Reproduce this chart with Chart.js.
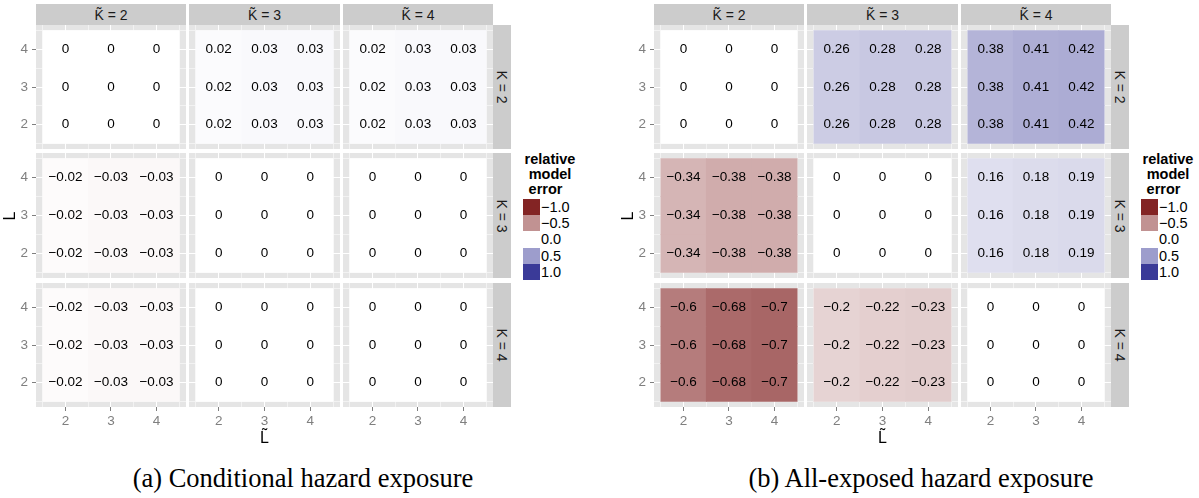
<!DOCTYPE html>
<html>
<head>
<meta charset="utf-8">
<script src="https://cdn.jsdelivr.net/npm/chart.js@4.4.1/dist/chart.umd.min.js"></script>
<style>
  html, body { margin: 0; padding: 0; background: #ffffff; }
  #page { position: relative; width: 1199px; height: 498px; overflow: hidden;
          font-family: "Liberation Sans", Arial, sans-serif; }
  #page canvas { position: absolute; }
  .strip { position: absolute; background: #CCCCCC; color: #1A1A1A; font-size: 14px;
           display: flex; align-items: center; justify-content: center; white-space: nowrap; }
  .strip .rot { display: inline-block; transform: rotate(90deg); }
  .txt { position: absolute; white-space: nowrap; color: #000; }
  .key { position: absolute; }
</style>
</head>
<body>
<div id="page"></div>
<script>
// grid coordinates shared by every facet
const lTildeValues = [2, 3, 4];
const lValues = [2, 3, 4];
const kTildeValues = [2, 3, 4];
const kValues = [2, 3, 4];
const axisTicks = [2, 3, 4];
const minorTicks = [1.5, 2.5, 3.5, 4.5];
const legendBreaks = [-1, -0.5, 0, 0.5, 1];
const legendLabels = ['\u22121.0', '\u22120.5', '0.0', '0.5', '1.0'];

// relative model error; one list per K row, one entry per K̃ facet,
// each giving the error for L̃ = 2, 3, 4 (the same for every L)
const conditionalK2 = [[0, 0, 0], [0.02, 0.03, 0.03], [0.02, 0.03, 0.03]];
const conditionalK3 = [[-0.02, -0.03, -0.03], [0, 0, 0], [0, 0, 0]];
const conditionalK4 = [[-0.02, -0.03, -0.03], [0, 0, 0], [0, 0, 0]];
const allExposedK2 = [[0, 0, 0], [0.26, 0.28, 0.28], [0.38, 0.41, 0.42]];
const allExposedK3 = [[-0.34, -0.38, -0.38], [0, 0, 0], [0.16, 0.18, 0.19]];
const allExposedK4 = [[-0.6, -0.68, -0.7], [-0.2, -0.22, -0.23], [0, 0, 0]];

// ---- diverging fill scale: white in the middle, muted red / muted blue at the ends ----
const LOW = [131, 36, 36], MID = [255, 255, 255], HIGH = [58, 58, 152];
function fillColor(v) {
  const t = Math.min(1, Math.abs(v));
  const end = v < 0 ? LOW : HIGH;
  const c = MID.map((m, i) => Math.round(m + (end[i] - m) * t));
  return 'rgb(' + c.join(',') + ')';
}
function formatValue(v) {
  if (v === 0) return '0';
  return (v < 0 ? '\u2212' : '') + String(Math.abs(v));
}

// ---- layout of the facet grid (relative to each figure's left edge) ----
const cols = [{ l: 36, r: 186 }, { l: 189, r: 340 }, { l: 343, r: 493 }];
const rows = [{ t: 25, b: 149 }, { t: 153, b: 278 }, { t: 283, b: 407 }];
const Y_AXIS_W = 36, X_AXIS_H = 32;
const RANGE_MIN = 1.35, RANGE_MAX = 4.65;
const TICK_GREY = '#7F7F7F';

Chart.defaults.font.family = '"Liberation Sans", Arial, sans-serif';
Chart.defaults.animation = false;

const page = document.getElementById('page');
function addEl(cls, style, html) {
  const d = document.createElement('div');
  d.className = cls;
  Object.assign(d.style, style);
  d.innerHTML = html;
  page.appendChild(d);
  return d;
}

const panelBackground = {
  id: 'panelBackground',
  beforeDraw(chart) {
    const a = chart.chartArea, ctx = chart.ctx;
    ctx.save();
    ctx.fillStyle = '#E5E5E5';
    ctx.fillRect(a.left, a.top, a.right - a.left, a.bottom - a.top);
    ctx.restore();
  }
};

const cellLabels = {
  id: 'cellLabels',
  afterDatasetsDraw(chart) {
    const ctx = chart.ctx;
    const ds = chart.data.datasets[0];
    const meta = chart.getDatasetMeta(0);
    ctx.save();
    ctx.fillStyle = '#000000';
    ctx.font = '13.5px "Liberation Sans", Arial, sans-serif';
    ctx.textAlign = 'center';
    ctx.textBaseline = 'middle';
    meta.data.forEach((el, i) => {
      const p = el.getCenterPoint();
      ctx.fillText(formatValue(ds.data[i].v), p.x, p.y);
    });
    ctx.restore();
  }
};

function majorScale(axis, position, show, size) {
  return {
    type: 'linear', axis: axis, position: position,
    min: RANGE_MIN, max: RANGE_MAX, offset: false,
    afterBuildTicks: s => { s.ticks = axisTicks.map(v => ({ value: v })); },
    afterFit: s => {
      if (axis === 'x') s.height = show ? size : 0; else s.width = show ? size : 0;
      s.paddingLeft = 0; s.paddingRight = 0; s.paddingTop = 0; s.paddingBottom = 0;
    },
    grid: { offset: false, color: '#FFFFFF', lineWidth: 1, drawTicks: show,
            tickLength: 4, tickColor: TICK_GREY, tickWidth: 1 },
    border: { display: false },
    ticks: { display: show, color: TICK_GREY, font: { size: 13.5 },
             padding: axis === 'x' ? 2 : 4, autoSkip: false, maxRotation: 0,
             callback: v => String(v) }
  };
}
function minorScale(axis, position) {
  return {
    type: 'linear', axis: axis, position: position,
    min: RANGE_MIN, max: RANGE_MAX, offset: false,
    afterBuildTicks: s => { s.ticks = minorTicks.map(v => ({ value: v })); },
    afterFit: s => {
      if (axis === 'x') s.height = 0; else s.width = 0;
      s.paddingLeft = 0; s.paddingRight = 0; s.paddingTop = 0; s.paddingBottom = 0;
    },
    grid: { offset: false, color: '#F2F2F2', lineWidth: 1, drawTicks: false },
    border: { display: false },
    ticks: { display: false }
  };
}

function facetChart(ox, ri, ci, values) {
  const showY = ci === 0, showX = ri === 2;
  const col = cols[ci], row = rows[ri];
  const left = ox + col.l - (showY ? Y_AXIS_W : 0);
  const width = col.r - col.l + (showY ? Y_AXIS_W : 0);
  const height = row.b - row.t + (showX ? X_AXIS_H : 0);
  const canvas = document.createElement('canvas');
  canvas.width = width; canvas.height = height;
  Object.assign(canvas.style, { left: left + 'px', top: row.t + 'px',
                                width: width + 'px', height: height + 'px' });
  page.appendChild(canvas);

  const points = [], colors = [];
  lValues.forEach(L => {
    lTildeValues.forEach((lt, j) => {
      points.push({ x: lt, y: [L - 0.5, L + 0.5], v: values[j] });
      colors.push(fillColor(values[j]));
    });
  });

  new Chart(canvas, {
    type: 'bar',
    data: { datasets: [{ data: points, backgroundColor: colors, borderWidth: 0,
                         barPercentage: 1, categoryPercentage: 1 }] },
    options: {
      responsive: false, animation: false, devicePixelRatio: 1,
      layout: { padding: 0 },
      plugins: { legend: { display: false }, tooltip: { enabled: false }, title: { display: false } },
      scales: {
        xMinor: minorScale('x', 'bottom'),
        yMinor: minorScale('y', 'left'),
        x: majorScale('x', 'bottom', showX, X_AXIS_H),
        y: majorScale('y', 'left', showY, Y_AXIS_W)
      }
    },
    plugins: [panelBackground, cellLabels]
  });
}

function buildFigure(ox, byK, caption) {
  byK.forEach((facets, ri) => facets.forEach((vals, ci) => facetChart(ox, ri, ci, vals)));

  // facet strips
  kTildeValues.forEach((kt, ci) => {
    addEl('strip', { left: (ox + cols[ci].l) + 'px', top: '4px',
                     width: (cols[ci].r - cols[ci].l) + 'px', height: '21px' },
          'K\u0303 = ' + kt);
  });
  kValues.forEach((k, ri) => {
    addEl('strip', { left: (ox + 493) + 'px', top: rows[ri].t + 'px',
                     width: '18px', height: (rows[ri].b - rows[ri].t) + 'px' },
          '<span class="rot">K = ' + k + '</span>');
  });

  // axis titles
  addEl('txt', { left: (ox + 2) + 'px', top: '206px', width: '16px', height: '20px',
                 fontSize: '16px', lineHeight: '20px', textAlign: 'center',
                 transform: 'rotate(-90deg)' }, 'L');
  addEl('txt', { left: (ox + 244.5) + 'px', top: '428px', width: '40px',
                 fontSize: '16px', lineHeight: '20px', textAlign: 'center' }, 'L\u0303');

  // legend
  addEl('txt', { left: (ox + 515) + 'px', top: '152px', width: '70px',
                 fontSize: '14.5px', fontWeight: 'bold', lineHeight: '15px',
                 textAlign: 'center' },
        'relative<br>model<br><span style="margin-right:9px">error</span>');
  legendBreaks.forEach((b, i) => {
    const top = 199 + i * 16.2;
    addEl('key', { left: (ox + 523) + 'px', top: top + 'px', width: '17px', height: '16.4px',
                   background: fillColor(b) }, '');
    addEl('txt', { left: (ox + 541) + 'px', top: (top - 1) + 'px', fontSize: '14.5px',
                   lineHeight: '18px' }, legendLabels[i]);
  });

  // caption
  addEl('txt', { left: (ox + 103) + 'px', top: '462px', width: '400px', textAlign: 'center',
                 fontFamily: '"Liberation Serif", "Times New Roman", serif',
                 fontSize: '26.5px', lineHeight: '32px' }, caption);
}

buildFigure(0, [conditionalK2, conditionalK3, conditionalK4], '(a) Conditional hazard exposure');
buildFigure(618, [allExposedK2, allExposedK3, allExposedK4], '(b) All-exposed hazard exposure');
</script>
</body>
</html>
